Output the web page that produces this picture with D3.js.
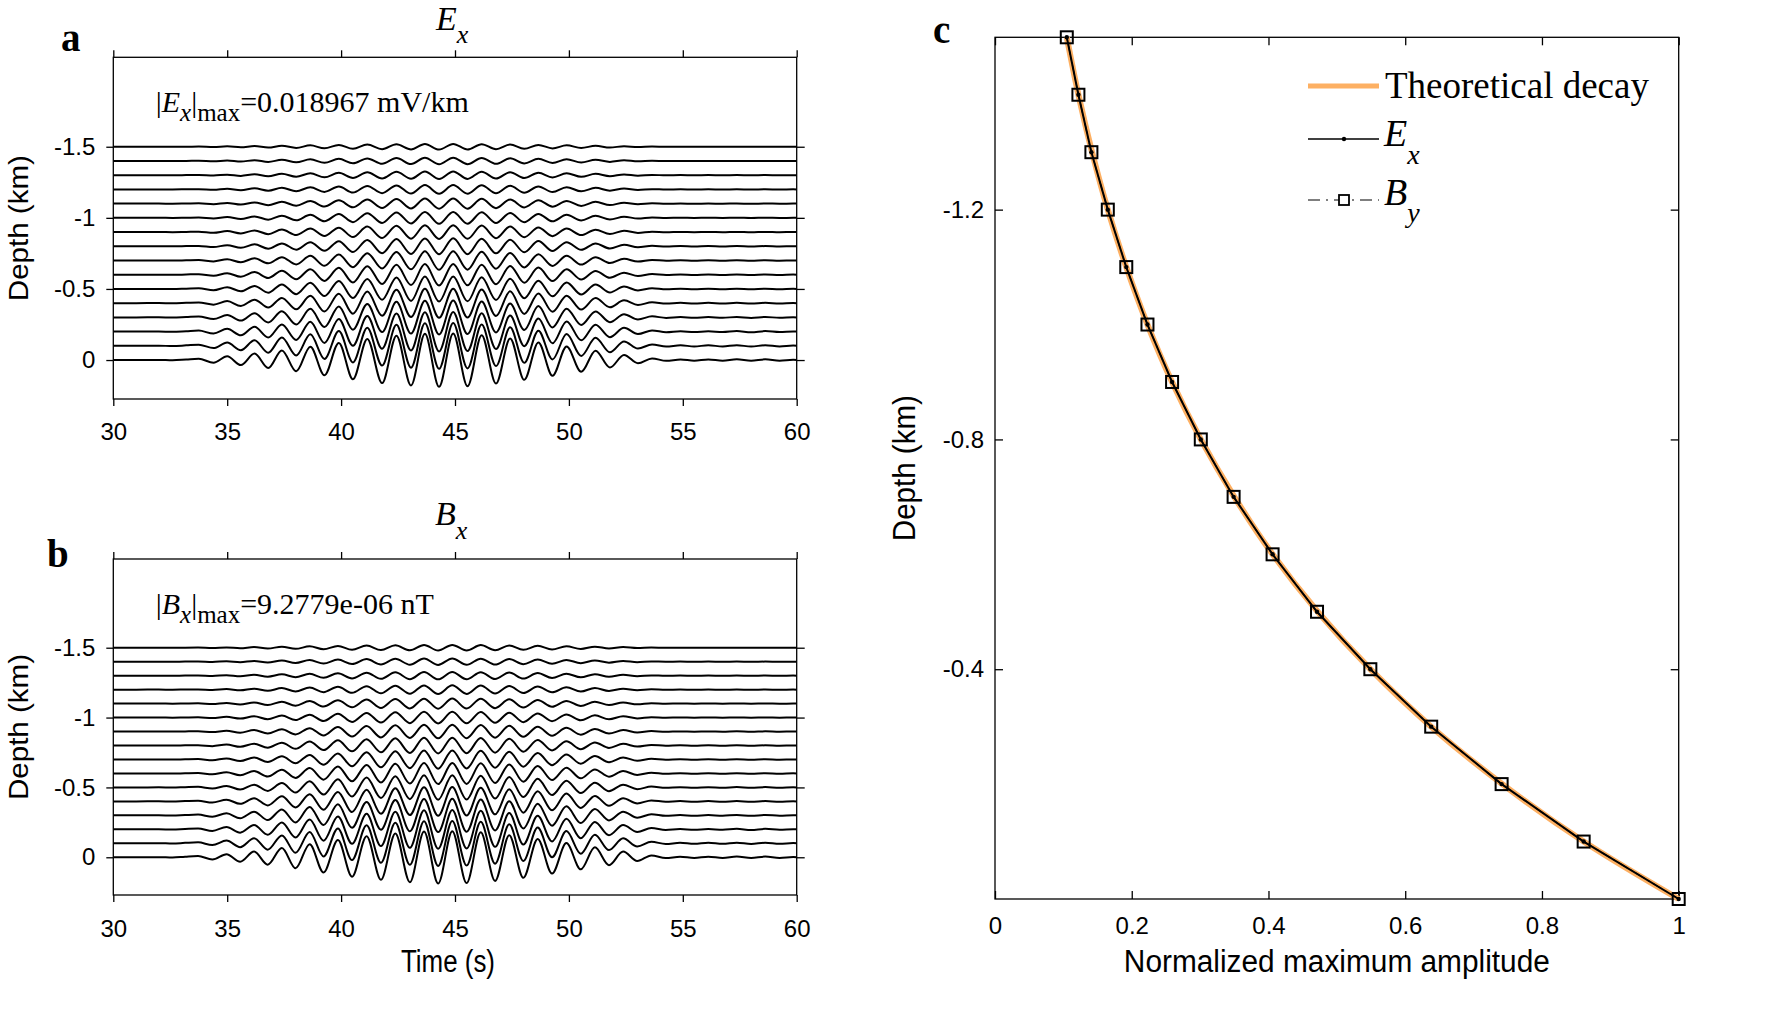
<!DOCTYPE html>
<html>
<head>
<meta charset="utf-8">
<script src="https://cdn.jsdelivr.net/npm/d3@7"></script>
<style>
html,body{margin:0;padding:0;background:#fff;}
svg{display:block;}
.tick text{font-family:"Liberation Sans",Arial,sans-serif;font-size:24px;fill:#000;}
.serif{font-family:"Liberation Serif","Times New Roman",serif;fill:#000;}
.sans{font-family:"Liberation Sans",Arial,sans-serif;fill:#000;}
</style>
</head>
<body>
<svg id="fig" width="1773" height="1028"></svg>
<script>
// ---------------- DATA ----------------
const timeTicks = [30, 35, 40, 45, 50, 55, 60];
const traceDepthTicks = [-1.5, -1, -0.5, 0];
const ampTicks = [0, 0.2, 0.4, 0.6, 0.8, 1];
const profileDepthTicks = [-1.2, -0.8, -0.4];

// depths of the 16 receivers (km)
const depths = [0, -0.1, -0.2, -0.3, -0.4, -0.5, -0.6, -0.7, -0.8, -0.9, -1.0, -1.1, -1.2, -1.3, -1.4, -1.5];
// normalized maximum amplitude
const theoryAmp = [1.000, 0.861, 0.742, 0.638, 0.549, 0.472, 0.406, 0.350, 0.301, 0.259, 0.223, 0.192, 0.165, 0.142, 0.122, 0.105];
const exNormAmp = [1.000, 0.861, 0.741, 0.638, 0.549, 0.471, 0.406, 0.349, 0.301, 0.259, 0.223, 0.192, 0.165, 0.141, 0.122, 0.105];
const byNormAmp = [1.000, 0.861, 0.741, 0.638, 0.549, 0.471, 0.406, 0.349, 0.301, 0.259, 0.223, 0.192, 0.165, 0.141, 0.122, 0.105];

// surface (0 km) Ex trace: times (s) of extrema and normalized values
const exTime = [30, 31, 32, 32.6, 33.2, 33.75, 34.4, 35.0, 35.6, 36.2, 36.8, 37.4, 38.03, 38.65, 39.27, 39.9,
  40.52, 41.15, 41.8, 42.43, 43.07, 43.68, 44.3, 44.92, 45.55, 46.17, 46.8, 47.42, 48.04, 48.66, 49.28, 49.9,
  50.54, 51.17, 51.8, 52.42, 53.03, 53.65, 54.27, 54.9, 55.5, 56.12, 56.75, 57.37, 58.0, 58.62, 59.25, 59.85, 60];
const exValue = [0, 0, 0.005, -0.01, 0.02, 0.05, -0.10, 0.14, -0.19, 0.24, -0.30, 0.36, -0.42, 0.50, -0.57, 0.64,
  -0.72, 0.79, -0.86, 0.91, -0.95, 0.98, -1.00, 0.99, -0.98, 0.93, -0.88, 0.81, -0.74, 0.66, -0.59, 0.51,
  -0.44, 0.35, -0.28, 0.19, -0.12, 0.06, -0.03, 0.02, -0.025, 0.02, -0.025, 0.025, -0.03, 0.025, -0.025, 0.01, 0];

// surface (0 km) Bx trace
const bxTime = [30, 31, 32, 32.6, 33.15, 33.72, 34.35, 34.97, 35.57, 36.18, 36.78, 37.4, 38.0, 38.62, 39.23, 39.86,
  40.48, 41.12, 41.75, 42.38, 43.02, 43.64, 44.26, 44.88, 45.51, 46.13, 46.76, 47.38, 48.0, 48.63, 49.26, 49.89,
  50.52, 51.14, 51.76, 52.38, 53.0, 53.62, 54.25, 54.88, 55.5, 56.12, 56.75, 57.37, 58.0, 58.62, 59.25, 59.85, 60];
const bxValue = [0, 0, 0.005, -0.01, 0.02, 0.045, -0.08, 0.12, -0.17, 0.22, -0.28, 0.35, -0.42, 0.50, -0.58, 0.66,
  -0.74, 0.80, -0.86, 0.91, -0.95, 0.98, -1.00, 0.99, -0.98, 0.95, -0.90, 0.84, -0.78, 0.70, -0.62, 0.54,
  -0.46, 0.38, -0.30, 0.22, -0.14, 0.07, -0.03, 0.02, -0.025, 0.02, -0.025, 0.025, -0.03, 0.025, -0.025, 0.01, 0];

// ---------------- LAYOUT ----------------
const traceScale = 0.188;   // km of vertical offset per unit normalized amplitude
const svg = d3.select("#fig");

function styleAxis(sel) {
  sel.select(".domain").remove();
  sel.selectAll(".tick line").attr("stroke", "#000").attr("stroke-width", 1.3);
}

function axisLabel(g, x, y, rot, txt, len, size) {
  return g.append("text").attr("class", "sans")
    .attr("transform", `translate(${x},${y})` + (rot ? " rotate(-90)" : ""))
    .attr("text-anchor", "middle").attr("font-size", size || 31)
    .attr("textLength", len).attr("lengthAdjust", "spacingAndGlyphs").text(txt);
}

function tracePanel(L, times, values, amps) {
  const x = d3.scaleLinear().domain([30, 60]).range([L.x0, L.x1]);
  const y = d3.scaleLinear().domain(L.yDom).range([L.y0, L.y1]);
  const g = svg.append("g");

  depths.forEach((d, i) => {
    const line = d3.line()
      .x((t) => x(t))
      .y((t, j) => y(d - values[j] * amps[i] * traceScale))
      .curve(d3.curveMonotoneX);
    g.append("path").attr("d", line(times))
      .attr("fill", "none").attr("stroke", "#000").attr("stroke-width", 2);
  });

  g.append("g").attr("transform", `translate(0,${L.y1})`)
    .call(d3.axisBottom(x).tickValues(timeTicks).tickFormat(d => String(d))
      .tickSizeInner(7).tickSizeOuter(0).tickPadding(L.xPad)).call(styleAxis);
  g.append("g").attr("transform", `translate(0,${L.y0})`)
    .call(d3.axisTop(x).tickValues(timeTicks).tickFormat("")
      .tickSizeInner(7).tickSizeOuter(0)).call(styleAxis);
  g.append("g").attr("transform", `translate(${L.x0},0)`)
    .call(d3.axisLeft(y).tickValues(traceDepthTicks).tickFormat(d => String(d))
      .tickSizeInner(7).tickSizeOuter(0).tickPadding(11)).call(styleAxis);
  g.append("g").attr("transform", `translate(${L.x1},0)`)
    .call(d3.axisRight(y).tickValues(traceDepthTicks).tickFormat("")
      .tickSizeInner(8).tickSizeOuter(0)).call(styleAxis);

  g.append("rect").attr("x", L.x0).attr("y", L.y0)
    .attr("width", L.x1 - L.x0).attr("height", L.y1 - L.y0)
    .attr("fill", "none").attr("stroke", "#000").attr("stroke-width", 1.3);

  axisLabel(g, 28, (L.y0 + L.y1) / 2, true, "Depth (km)", 146, 28);
  return g;
}

// Panel a
const gA = tracePanel({x0: 113.3, x1: 796.7, y0: 57.3, y1: 399, yDom: [-2.129, 0.274], xPad: 17},
  exTime, exValue, exNormAmp);
// Panel b
const gB = tracePanel({x0: 113.3, x1: 796.7, y0: 559, y1: 895, yDom: [-2.135, 0.27], xPad: 18},
  bxTime, bxValue, byNormAmp);

// Titles
function subTitle(g, xx, yy, main, sub, size, subSize, subDy) {
  const t = g.append("text").attr("class", "serif").attr("x", xx).attr("y", yy).attr("font-size", size);
  t.append("tspan").attr("font-style", "italic").text(main);
  t.append("tspan").attr("font-style", "italic").attr("font-size", subSize).attr("dy", subDy).text(sub);
  return t;
}
subTitle(gA, 436, 30, "E", "x", 34, 26, 13);
subTitle(gB, 435, 525, "B", "x", 34, 26, 14);

// Panel letters
svg.append("text").attr("class", "serif").attr("x", 61).attr("y", 51).attr("font-size", 39).attr("font-weight", "bold").text("a");
svg.append("text").attr("class", "serif").attr("x", 47).attr("y", 567).attr("font-size", 39).attr("font-weight", "bold").text("b");
svg.append("text").attr("class", "serif").attr("x", 933).attr("y", 43).attr("font-size", 39).attr("font-weight", "bold").text("c");

// Annotations
function annot(g, xx, yy, sym, rest) {
  const t = g.append("text").attr("class", "serif").attr("x", xx).attr("y", yy).attr("font-size", 30);
  t.append("tspan").text("|");
  t.append("tspan").attr("font-style", "italic").text(sym);
  t.append("tspan").attr("font-style", "italic").attr("font-size", 25).attr("dy", 9).text("x");
  t.append("tspan").attr("dy", -9).text("|");
  t.append("tspan").attr("font-size", 25).attr("dy", 9).text("max");
  t.append("tspan").attr("dy", -9).text(rest);
}
annot(gA, 155.7, 112, "E", "=0.018967 mV/km");
annot(gB, 155.7, 614, "B", "=9.2779e-06 nT");

// x label panel b
axisLabel(gB, 448, 972, false, "Time (s)", 94);

// ---------------- Panel c ----------------
const C = {x0: 995, x1: 1678.7, y0: 37.3, y1: 899};
const xc = d3.scaleLinear().domain([0, 1]).range([C.x0, C.x1]);
const yc = d3.scaleLinear().domain([-1.5, 0]).range([C.y0, C.y1]);
const gC = svg.append("g");

gC.append("g").attr("transform", `translate(0,${C.y1})`)
  .call(d3.axisBottom(xc).tickValues(ampTicks).tickFormat(d => String(d))
    .tickSizeInner(-8).tickSizeOuter(0).tickPadding(18)).call(styleAxis);
gC.append("g").attr("transform", `translate(0,${C.y0})`)
  .call(d3.axisTop(xc).tickValues(ampTicks).tickFormat("")
    .tickSizeInner(-8).tickSizeOuter(0)).call(styleAxis);
gC.append("g").attr("transform", `translate(${C.x0},0)`)
  .call(d3.axisLeft(yc).tickValues(profileDepthTicks).tickFormat(d => String(d))
    .tickSizeInner(-8).tickSizeOuter(0).tickPadding(11)).call(styleAxis);
gC.append("g").attr("transform", `translate(${C.x1},0)`)
  .call(d3.axisRight(yc).tickValues(profileDepthTicks).tickFormat("")
    .tickSizeInner(-8).tickSizeOuter(0)).call(styleAxis);
gC.append("rect").attr("x", C.x0).attr("y", C.y0)
  .attr("width", C.x1 - C.x0).attr("height", C.y1 - C.y0)
  .attr("fill", "none").attr("stroke", "#000").attr("stroke-width", 1.3);

const orange = "#fdb063";
// theoretical decay
gC.append("path")
  .attr("d", d3.line().x((d, i) => xc(theoryAmp[i])).y(d => yc(d)).curve(d3.curveCatmullRom)(depths))
  .attr("fill", "none").attr("stroke", orange).attr("stroke-width", 6);
// By dash-dot
gC.append("path")
  .attr("d", d3.line().x((d, i) => xc(byNormAmp[i])).y(d => yc(d))(depths))
  .attr("fill", "none").attr("stroke", "#000").attr("stroke-width", 1.2).attr("stroke-dasharray", "10,4,2,4");
// Ex solid
gC.append("path")
  .attr("d", d3.line().x((d, i) => xc(exNormAmp[i])).y(d => yc(d))(depths))
  .attr("fill", "none").attr("stroke", "#000").attr("stroke-width", 2);
// By squares
gC.selectAll("rect.by").data(depths).join("rect").attr("class", "by")
  .attr("x", (d, i) => xc(byNormAmp[i]) - 6).attr("y", d => yc(d) - 6)
  .attr("width", 12).attr("height", 12)
  .attr("fill", "none").attr("stroke", "#000").attr("stroke-width", 2);
// Ex dots
gC.selectAll("circle.ex").data(depths).join("circle").attr("class", "ex")
  .attr("cx", (d, i) => xc(exNormAmp[i])).attr("cy", d => yc(d)).attr("r", 2.2).attr("fill", "#000");

// labels
axisLabel(gC, (C.x0 + C.x1) / 2, 972, false, "Normalized maximum amplitude", 426);
axisLabel(gC, 915, (C.y0 + C.y1) / 2, true, "Depth (km)", 146);

// legend
const lg = gC.append("g");
lg.append("line").attr("x1", 1308).attr("x2", 1379).attr("y1", 86).attr("y2", 86)
  .attr("stroke", orange).attr("stroke-width", 5);
lg.append("text").attr("class", "serif").attr("x", 1385).attr("y", 98).attr("font-size", 37).text("Theoretical decay");

lg.append("line").attr("x1", 1308).attr("x2", 1379).attr("y1", 139).attr("y2", 139)
  .attr("stroke", "#000").attr("stroke-width", 1.5);
lg.append("circle").attr("cx", 1344).attr("cy", 139).attr("r", 2.2).attr("fill", "#000");
subTitle(lg, 1384, 146, "E", "x", 38, 28, 18);

lg.append("line").attr("x1", 1308).attr("x2", 1379).attr("y1", 200).attr("y2", 200)
  .attr("stroke", "#000").attr("stroke-width", 1.2).attr("stroke-dasharray", "12,6,2,6");
lg.append("rect").attr("x", 1339).attr("y", 195).attr("width", 10).attr("height", 10)
  .attr("fill", "#fff").attr("stroke", "#000").attr("stroke-width", 1.8);
subTitle(lg, 1384, 205, "B", "y", 38, 28, 17);
</script>
</body>
</html>
